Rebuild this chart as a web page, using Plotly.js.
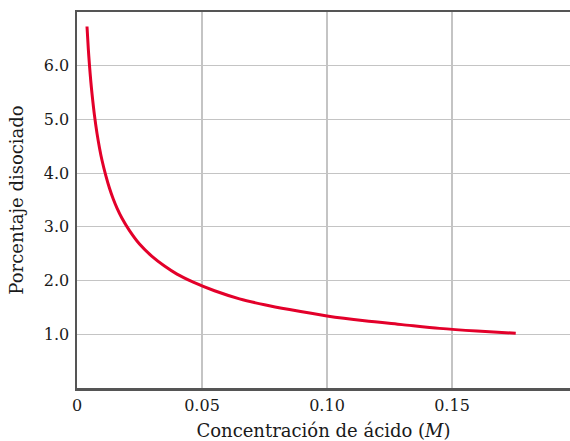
<!DOCTYPE html>
<html>
<head>
<meta charset="utf-8">
<script src="https://cdn.plot.ly/plotly-3.0.1.min.js"></script>
<style>html,body{margin:0;padding:0;background:#fff;}#chart{width:570px;height:441px;}</style>
</head>
<body>
<div id="chart"></div>
<script>
// Concentración de ácido (M)
const concentration = [0.004, 0.0045, 0.005, 0.0055, 0.006, 0.007, 0.008, 0.009, 0.010, 0.0115, 0.013, 0.0145, 0.016, 0.018, 0.021, 0.025, 0.030, 0.035, 0.040, 0.0465, 0.055, 0.065, 0.075, 0.085, 0.100, 0.115, 0.130, 0.145, 0.160, 0.1755];
// Porcentaje disociado
const percentDissociated = [6.73, 6.33, 6.0, 5.72, 5.48, 5.07, 4.74, 4.47, 4.24, 3.96, 3.72, 3.52, 3.35, 3.16, 2.93, 2.68, 2.45, 2.27, 2.12, 1.97, 1.81, 1.66, 1.55, 1.46, 1.34, 1.25, 1.18, 1.11, 1.06, 1.02];
const xTickVals = [0, 0.05, 0.10, 0.15];
const xTickText = ["0", "0.05", "0.10", "0.15"];
const yTickVals = [1, 2, 3, 4, 5, 6];
const yTickText = ["1.0", "2.0", "3.0", "4.0", "5.0", "6.0"];

const tickFont = {family: "DejaVu Serif, Liberation Serif, serif", size: 16, color: "#1a1a1a"};
const titleFont = {family: "DejaVu Serif, Liberation Serif, serif", size: 18, color: "#1a1a1a"};

Plotly.newPlot("chart", [{
  x: concentration,
  y: percentDissociated,
  type: "scatter",
  mode: "lines",
  line: {color: "#e3002a", width: 3, shape: "spline", smoothing: 0.8},
  hoverinfo: "none"
}], {
  width: 570, height: 441,
  margin: {l: 77, r: 0, t: 12, b: 53, pad: 0},
  paper_bgcolor: "#fff", plot_bgcolor: "#fff",
  font: tickFont,
  showlegend: false,
  xaxis: {
    range: [0, 0.1972],
    tickvals: xTickVals, ticktext: xTickText,
    showgrid: true, gridcolor: "#c4c4c4", gridwidth: 1.2,
    showline: true, linecolor: "#555", linewidth: 2.5, mirror: true,
    zeroline: false,
    ticks: "outside", ticklen: 1, tickcolor: "rgba(0,0,0,0)",
    tickfont: tickFont,
    title: {text: "Concentración de ácido (<i>M</i>)", font: titleFont, standoff: 11}
  },
  yaxis: {
    range: [0, 7],
    tickvals: yTickVals, ticktext: yTickText,
    showgrid: true, gridcolor: "#c4c4c4", gridwidth: 1.2,
    showline: true, linecolor: "#555", linewidth: 2.5, mirror: false,
    zeroline: false,
    ticks: "outside", ticklen: 2, tickcolor: "rgba(0,0,0,0)",
    tickfont: tickFont,
    title: {text: "Porcentaje disociado", font: titleFont, standoff: 16}
  }
}, {staticPlot: true});
</script>
</body>
</html>
